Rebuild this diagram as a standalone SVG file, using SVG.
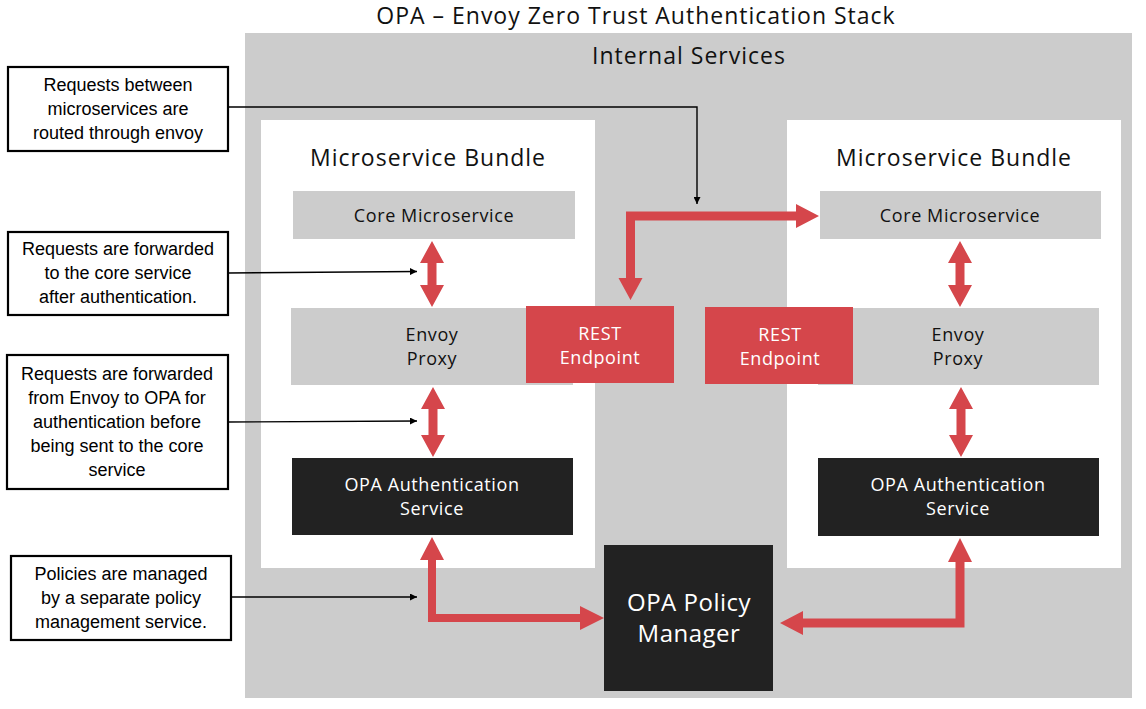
<svg xmlns="http://www.w3.org/2000/svg" width="1146" height="709" viewBox="0 0 1146 709">
<defs>
<style>
.t{font-family:"Open Sans","Noto Sans",sans-serif;text-anchor:middle;fill:#111}
.big{font-size:23px;letter-spacing:1px}
.mid{font-size:18px;letter-spacing:0.6px}
.w{fill:#fff}
.gray{fill:#cccccc}
.dark{fill:#222222}
.red{fill:#d5464b}
.note rect{fill:#fff;stroke:#000;stroke-width:2.2}
.note text{font-family:"Liberation Sans","Noto Sans",sans-serif;font-size:18px;text-anchor:middle;fill:#000}
.lead{fill:none;stroke:#000;stroke-width:1.4}
</style>
<marker id="ah" viewBox="0 0 10 10" refX="10" refY="5" markerWidth="7" markerHeight="7" markerUnits="userSpaceOnUse" orient="auto">
<path d="M0,0 L10,5 L0,10 Z" fill="#000"/>
</marker>
</defs>
<rect width="1146" height="709" fill="#fff"/>
<text class="t big" x="636" y="24">OPA – Envoy Zero Trust Authentication Stack</text>
<g id="internal-services">
<rect class="gray" x="245" y="33" width="887" height="665"/>
<text class="t big" x="689" y="64">Internal Services</text>
</g>
<g id="bundle-left">
<rect x="261" y="120" width="334" height="448" fill="#fff"/>
<text class="t big" x="428" y="166">Microservice Bundle</text>
</g>
<g id="bundle-right">
<rect x="787" y="120" width="334" height="448" fill="#fff"/>
<text class="t big" x="954" y="166">Microservice Bundle</text>
</g>
<g id="core-left">
<rect class="gray" x="293" y="191" width="282" height="48"/>
<text class="t mid" x="434" y="222">Core Microservice</text>
</g>
<g id="core-right">
<rect class="gray" x="820" y="191" width="281" height="48"/>
<text class="t mid" x="960" y="222">Core Microservice</text>
</g>
<g id="envoy-left">
<rect class="gray" x="291" y="308" width="282" height="77"/>
<text class="t mid" x="432" y="341">Envoy</text>
<text class="t mid" x="432" y="365">Proxy</text>
</g>
<g id="envoy-right">
<rect class="gray" x="818" y="308" width="281" height="77"/>
<text class="t mid" x="958" y="341">Envoy</text>
<text class="t mid" x="958" y="365">Proxy</text>
</g>
<g id="rest-left">
<rect class="red" x="526" y="306" width="148" height="77"/>
<text class="t mid w" x="600" y="340">REST</text>
<text class="t mid w" x="600" y="364">Endpoint</text>
</g>
<g id="rest-right">
<rect class="red" x="705" y="307" width="148" height="77"/>
<text class="t mid w" x="780" y="341">REST</text>
<text class="t mid w" x="780" y="365">Endpoint</text>
</g>
<g id="opa-auth-left">
<rect class="dark" x="292" y="458" width="281" height="77"/>
<text class="t mid w" x="432" y="491">OPA Authentication</text>
<text class="t mid w" x="432" y="515">Service</text>
</g>
<g id="opa-auth-right">
<rect class="dark" x="818" y="458" width="281" height="78"/>
<text class="t mid w" x="958" y="491">OPA Authentication</text>
<text class="t mid w" x="958" y="515">Service</text>
</g>
<g id="opa-policy-manager">
<rect class="dark" x="604" y="545" width="169" height="146"/>
<text class="t w" x="689" y="611" font-size="24" letter-spacing="0.5">OPA Policy</text>
<text class="t w" x="689" y="642" font-size="24" letter-spacing="0.5">Manager</text>
</g>
<g id="note-1" class="note">
<rect x="8" y="67" width="220" height="84"/>
<text x="118" y="91">Requests between</text>
<text x="118" y="115">microservices are</text>
<text x="118" y="139">routed through envoy</text>
</g>
<g id="note-2" class="note">
<rect x="8" y="232" width="220" height="83"/>
<text x="118" y="255">Requests are forwarded</text>
<text x="118" y="279">to the core service</text>
<text x="118" y="303">after authentication.</text>
</g>
<g id="note-3" class="note">
<rect x="7" y="355" width="221" height="134"/>
<text x="117" y="380">Requests are forwarded</text>
<text x="117" y="404">from Envoy to OPA for</text>
<text x="117" y="428">authentication before</text>
<text x="117" y="452">being sent to the core</text>
<text x="117" y="476">service</text>
</g>
<g id="note-4" class="note">
<rect x="11" y="556" width="220" height="84"/>
<text x="121" y="580">Policies are managed</text>
<text x="121" y="604">by a separate policy</text>
<text x="121" y="628">management service.</text>
</g>
<g id="connectors">
<path class="red" d="M432,241 L444,263 L436.5,263 L436.5,285 L444,285 L432,307 L420,285 L427.5,285 L427.5,263 L420,263 Z"/>
<path class="red" d="M433,387 L445,409 L437.5,409 L437.5,435 L445,435 L433,457 L421,435 L428.5,435 L428.5,409 L421,409 Z"/>
<path class="red" d="M960,241 L972,263 L964.5,263 L964.5,285 L972,285 L960,307 L948,285 L955.5,285 L955.5,263 L948,263 Z"/>
<path class="red" d="M961,387 L973,409 L965.5,409 L965.5,435 L973,435 L961,457 L949,435 L956.5,435 L956.5,409 L949,409 Z"/>
<path class="red" d="M432,537 L444,560 L436,560 L436,614 L580,614 L580,606 L604,618 L580,630 L580,622 L428,622 L428,560 L420,560 Z"/>
<path class="red" d="M780,623 L803,611 L803,618.5 L955.5,618.5 L955.5,562 L948,562 L960,538 L972,562 L964.5,562 L964.5,627.5 L803,627.5 L803,635 Z"/>
<path class="red" d="M630.5,300 L618.5,278 L626,278 L626,211.5 L796,211.5 L796,204 L819,216 L796,228 L796,220.5 L635,220.5 L635,278 L642.5,278 Z"/>
<path class="lead" d="M228,107 H697 V204" marker-end="url(#ah)"/>
<path class="lead" d="M228,273 L417,271.5" marker-end="url(#ah)"/>
<path class="lead" d="M228,422 L417,421" marker-end="url(#ah)"/>
<path class="lead" d="M231,597 H417" marker-end="url(#ah)"/>
</g>
</svg>
